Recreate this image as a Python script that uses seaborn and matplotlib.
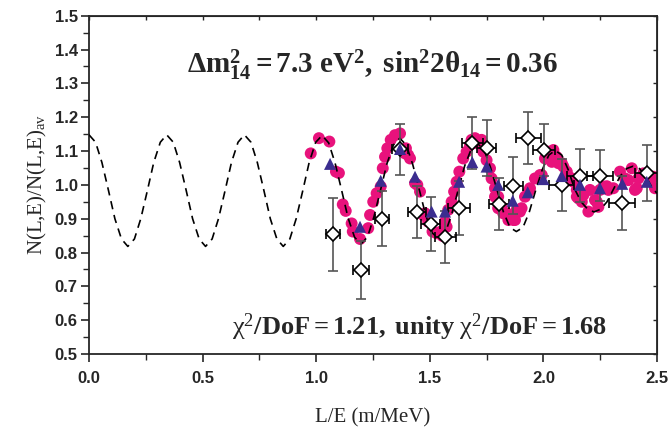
import numpy as np
import pandas as pd
import matplotlib
matplotlib.use('Agg')
import matplotlib.pyplot as plt
import seaborn as sns
from matplotlib.ticker import MultipleLocator

# Data
# dashed model curve
curva_x = [0.000, 0.029, 0.057, 0.086, 0.114, 0.143, 0.171, 0.200, 0.228, 0.257, 0.285, 0.314,
           0.342, 0.371, 0.399, 0.428, 0.456, 0.485, 0.513, 0.542, 0.570, 0.599, 0.627, 0.656,
           0.684, 0.713, 0.741, 0.770, 0.798, 0.827, 0.855, 0.884, 0.912, 0.941, 0.969, 0.998,
           1.026, 1.055, 1.083, 1.112, 1.140, 1.169, 1.197, 1.226, 1.254, 1.283, 1.311, 1.340,
           1.368, 1.397, 1.425, 1.454, 1.482, 1.511, 1.539, 1.568, 1.596, 1.625, 1.653, 1.682,
           1.710, 1.739, 1.767, 1.796, 1.824, 1.853, 1.881, 1.910, 1.938, 1.967, 1.995, 2.024,
           2.052, 2.081, 2.109, 2.138, 2.166, 2.195, 2.223, 2.252, 2.280, 2.309, 2.337, 2.366,
           2.394, 2.423, 2.451, 2.480, 2.500]
curva_y = [1.148, 1.126, 1.066, 0.983, 0.900, 0.840, 0.818, 0.840, 0.900, 0.983, 1.066, 1.126,
           1.148, 1.126, 1.066, 0.983, 0.900, 0.840, 0.818, 0.840, 0.900, 0.983, 1.066, 1.126,
           1.148, 1.126, 1.066, 0.983, 0.900, 0.840, 0.818, 0.840, 0.900, 0.983, 1.066, 1.126,
           1.146, 1.124, 1.065, 0.984, 0.903, 0.845, 0.825, 0.846, 0.905, 0.984, 1.062, 1.118,
           1.138, 1.117, 1.060, 0.985, 0.910, 0.858, 0.840, 0.858, 0.912, 0.985, 1.055, 1.105,
           1.122, 1.104, 1.052, 0.985, 0.920, 0.874, 0.862, 0.874, 0.920, 0.986, 1.045, 1.088,
           1.102, 1.088, 1.045, 0.987, 0.950, 0.928, 0.920, 0.928, 0.950, 0.988, 1.025, 1.048,
           1.055, 1.048, 1.025, 0.990, 0.975]

# pink points
rosa_x = [0.976, 1.012, 1.058, 1.087, 1.100, 1.117, 1.130, 1.156, 1.161, 1.193, 1.229, 1.237,
          1.251, 1.266, 1.284, 1.293, 1.303, 1.313, 1.328, 1.347, 1.369, 1.391, 1.395, 1.405,
          1.413, 1.435, 1.445, 1.457, 1.471, 1.479, 1.493, 1.512, 1.530, 1.545, 1.556, 1.567,
          1.574, 1.581, 1.596, 1.607, 1.618, 1.630, 1.647, 1.662, 1.677, 1.684, 1.699, 1.709,
          1.728, 1.735, 1.750, 1.765, 1.772, 1.787, 1.787, 1.801, 1.801, 1.816, 1.823, 1.838,
          1.846, 1.868, 1.875, 1.882, 1.897, 1.904, 1.919, 1.934, 1.941, 1.963, 1.985, 1.993,
          2.007, 2.022, 2.037, 2.044, 2.058, 2.066, 2.081, 2.088, 2.103, 2.110, 2.125, 2.132,
          2.147, 2.147, 2.154, 2.169, 2.176, 2.198, 2.205, 2.227, 2.235, 2.242, 2.249, 2.264,
          2.279, 2.286, 2.308, 2.337, 2.359, 2.374, 2.389, 2.403, 2.411, 2.418, 2.440, 2.477,
          2.484, 2.491]
rosa_y = [1.093, 1.138, 1.128, 1.039, 1.035, 0.942, 0.923, 0.886, 0.862, 0.840, 0.872, 0.911,
          0.950, 0.975, 0.995, 1.049, 1.083, 1.108, 1.133, 1.147, 1.152, 1.093, 1.108, 1.088,
          1.078, 1.005, 1.000, 0.980, 0.911, 0.916, 0.891, 0.862, 0.857, 0.861, 0.849, 0.891,
          0.876, 0.926, 0.950, 0.980, 1.009, 1.039, 1.078, 1.098, 1.118, 1.133, 1.138, 1.123,
          1.133, 1.098, 1.073, 1.049, 1.019, 0.990, 0.965, 0.965, 0.931, 0.935, 0.916, 0.916,
          0.896, 0.896, 0.896, 0.926, 0.921, 0.931, 0.965, 0.980, 0.990, 1.019, 1.029, 1.029,
          1.078, 1.098, 1.068, 1.103, 1.083, 1.064, 1.064, 1.054, 1.039, 1.024, 1.019, 1.009,
          0.985, 0.965, 0.960, 0.950, 0.970, 0.921, 0.985, 0.955, 0.950, 0.935, 0.985, 0.995,
          0.996, 0.985, 0.990, 1.039, 1.019, 1.014, 1.049, 0.985, 0.990, 1.019, 1.034, 1.019,
          1.024, 0.990]

# blue triangles
tri_x = [1.061, 1.193, 1.284, 1.369, 1.435, 1.508, 1.567, 1.629, 1.687, 1.750, 1.801, 1.865,
         1.931, 2.000, 2.080, 2.161, 2.249, 2.347, 2.455]
tri_y = [1.062, 0.876, 1.012, 1.106, 1.024, 0.921, 0.921, 1.009, 1.067, 1.054, 1.000, 0.953,
         0.978, 1.017, 1.026, 1.000, 0.990, 1.003, 1.009]

# open diamonds with error bars
dados_x = [1.073, 1.197, 1.291, 1.369, 1.442, 1.505, 1.568, 1.628, 1.686, 1.750, 1.805, 1.868,
           1.934, 2.003, 2.080, 2.161, 2.249, 2.347, 2.457]
dados_y = [0.854, 0.748, 0.900, 1.105, 0.919, 0.885, 0.847, 0.931, 1.125, 1.108, 0.943, 0.998,
           1.138, 1.103, 1.000, 1.027, 1.027, 0.947, 1.036]
erro_x = [0.030, 0.035, 0.031, 0.037, 0.040, 0.042, 0.046, 0.048, 0.046, 0.042, 0.045, 0.042,
          0.055, 0.050, 0.056, 0.057, 0.057, 0.057, 0.055]
erro_y = [0.108, 0.085, 0.081, 0.075, 0.077, 0.080, 0.077, 0.079, 0.077, 0.083, 0.076, 0.083,
          0.076, 0.077, 0.076, 0.079, 0.075, 0.080, 0.083]

sns.set_style("ticks")
plt.rcParams['font.family'] = ['Liberation Sans', 'DejaVu Sans']
plt.rcParams['mathtext.fontset'] = 'custom'
plt.rcParams['mathtext.rm'] = 'Liberation Serif'
plt.rcParams['mathtext.it'] = 'Liberation Serif:italic'
plt.rcParams['mathtext.bf'] = 'Liberation Serif:bold'

fig = plt.figure(figsize=(6.7, 4.28), dpi=100)
ax = fig.add_axes([0.1328, 0.1729, 0.8478, 0.7904])

df_rosa = pd.DataFrame({'x': rosa_x, 'y': rosa_y})
df_curva = pd.DataFrame({'x': curva_x, 'y': curva_y})
df_tri = pd.DataFrame({'x': tri_x, 'y': tri_y})

sns.scatterplot(data=df_rosa, x='x', y='y', ax=ax, color='#e8127c', s=74,
                edgecolor='none', zorder=2)
sns.lineplot(data=df_curva, x='x', y='y', ax=ax, color='black', lw=1.2,
             sort=False, estimator=None, zorder=3)
ax.lines[-1].set_dashes([5, 3.5])

# error bars: vertical gray, horizontal black
ax.errorbar(dados_x, dados_y, yerr=erro_y, fmt='none', ecolor='#555555',
            elinewidth=1.2, capsize=3.5, capthick=1.2, zorder=4)
ax.errorbar(dados_x, dados_y, xerr=erro_x, fmt='none', ecolor='black',
            elinewidth=1.2, capsize=3.5, capthick=1.2, zorder=4)
ax.plot(dados_x, dados_y, 'D', ms=7, mfc='white', mec='black', mew=1.2,
        ls='none', zorder=5)
sns.scatterplot(data=df_tri, x='x', y='y', ax=ax, marker='^', color='#3b2d8f',
                s=75, edgecolor='none', zorder=6)

ax.set_xlim(0, 2.5)
ax.set_ylim(0.5, 1.5)
ax.xaxis.set_major_locator(MultipleLocator(0.5))
ax.xaxis.set_minor_locator(MultipleLocator(0.25))
ax.yaxis.set_major_locator(MultipleLocator(0.1))
ax.yaxis.set_minor_locator(MultipleLocator(0.05))
ax.tick_params(which='major', direction='out', length=6, width=1.2, top=False, right=False)
ax.tick_params(which='minor', direction='out', length=4, width=1.0, top=False, right=False)
for lbl in ax.get_xticklabels() + ax.get_yticklabels():
    lbl.set_fontweight('bold')
    lbl.set_fontsize(12)
ax.tick_params(axis='x', pad=6)
ax.tick_params(axis='y', pad=2)
for sp in ax.spines.values():
    sp.set_linewidth(1.3)
    sp.set_visible(True)

# inner ticks on top and right
topo = ax.secondary_xaxis('top')
topo.xaxis.set_major_locator(MultipleLocator(0.25))
topo.tick_params(direction='in', length=3, width=1.0, labeltop=False)
dir_ = ax.secondary_yaxis('right')
dir_.yaxis.set_major_locator(MultipleLocator(0.1))
dir_.tick_params(direction='in', length=3, width=1.0, labelright=False)

ax.set_xlabel('L/E (m/MeV)', family='Liberation Serif', fontsize=15, labelpad=16)
ax.set_ylabel(r'N(L,E)/N(L,E)$_{\rm av}$', family='Liberation Serif', fontsize=15, labelpad=4)

ax.text(1.248, 1.330,
        r'$\mathbf{\Delta m^2_{14} = 7.3\ eV^2,\ sin^2 2\theta_{14} = 0.36}$',
        ha='center', va='baseline', fontsize=21)
ax.text(1.455, 0.556,
        r'$\mathrm{χ}^2\mathbf{/DoF = 1.21,\ unity\ }\mathrm{χ}^2\mathbf{/DoF = 1.68}$',
        ha='center', va='baseline', fontsize=19)

fig.savefig('out.png', dpi=100)
